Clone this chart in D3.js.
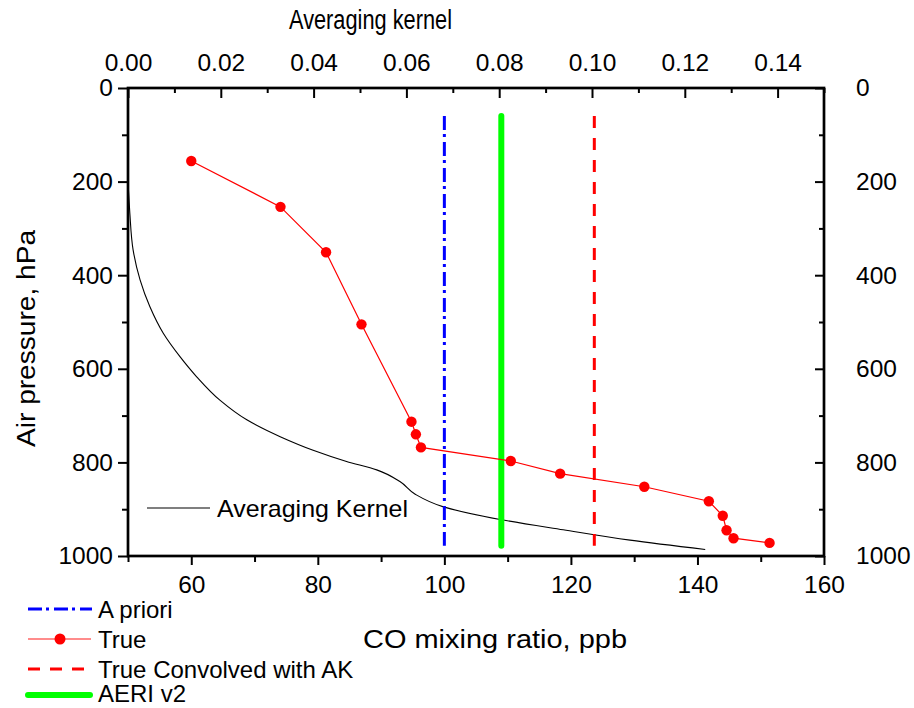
<!DOCTYPE html>
<html>
<head>
<meta charset="utf-8">
<script src="https://cdn.jsdelivr.net/npm/d3@7"></script>
<style>
  body { margin: 0; background: #fff; }
  svg { font-family: "Liberation Sans", Arial, sans-serif; }
</style>
</head>
<body>
<svg id="chart"></svg>
<script>
// CO profile (true), ppb vs hPa
const trueCO = [60, 74.1, 81.3, 86.9, 94.8, 95.5, 96.3, 110.5, 118.3, 131.6, 141.8, 144.0, 144.6, 145.7, 151.4];
const truePressure = [156, 254, 351, 505, 713, 740, 768, 797, 824, 852, 883, 914, 945, 962, 972];

// averaging kernel (top axis) vs pressure
const akValues = [0.0000, 0.0001, 0.0004, 0.0011, 0.0026, 0.0047, 0.0076, 0.0112, 0.0148, 0.0198, 0.0256, 0.0328, 0.0399, 0.0471, 0.0536, 0.0586, 0.0619, 0.0680, 0.0802, 0.0938, 0.1082, 0.1244];
const akPressure = [205, 218, 268, 346, 410, 467, 524, 574, 617, 667, 709, 745, 774, 798, 816, 841, 868, 895, 922, 944, 966, 986];

// constant profiles
const aprioriCO = 100;
const convolvedCO = 123.7;
const aeriCO = 109;
const profileRange = [60, 978];

const xTicks = [60, 80, 100, 120, 140, 160];
const xMinor = [50, 70, 90, 110, 130, 150];
const akTicks = [0, 0.02, 0.04, 0.06, 0.08, 0.10, 0.12, 0.14];
const akMinor = [0.01, 0.03, 0.05, 0.07, 0.09, 0.11, 0.13, 0.15];
const pTicks = [0, 200, 400, 600, 800, 1000];
const pMinor = [100, 300, 500, 700, 900];

const global_width = 914, global_height = 708;
const margin = {top: 88, left: 128};
const width = 696, height = 468;

const svg = d3.select("#chart")
  .attr("width", global_width)
  .attr("height", global_height);

svg.append("rect")
  .attr("width", global_width)
  .attr("height", global_height)
  .attr("fill", "#fff");

const plot = svg.append("g")
  .attr("transform", "translate(" + margin.left + "," + margin.top + ")");

// scales
const xScale = d3.scaleLinear().domain([50, 160]).range([0, width]);
const akScale = d3.scaleLinear().domain([0, 0.15]).range([0, width]);
const yScale = d3.scaleLinear().domain([0, 1000]).range([0, height]);

// axes - left & bottom ticks out, top & right ticks in
const fmtNone = () => "";
const fmtInt = d3.format("d");
const axes = [
  {axis: d3.axisLeft(yScale).tickValues(pTicks).tickSize(10).tickPadding(5).tickFormat(fmtInt), t: "translate(0,0)"},
  {axis: d3.axisLeft(yScale).tickValues(pMinor).tickSize(6).tickFormat(fmtNone), t: "translate(0,0)"},
  {axis: d3.axisRight(yScale).tickValues(pTicks).tickSize(-9).tickPadding(32).tickFormat(fmtInt), t: "translate(" + width + ",0)"},
  {axis: d3.axisRight(yScale).tickValues(pMinor).tickSize(-5).tickFormat(fmtNone), t: "translate(" + width + ",0)"},
  {axis: d3.axisBottom(xScale).tickValues(xTicks).tickSize(9).tickPadding(11), t: "translate(0," + height + ")"},
  {axis: d3.axisBottom(xScale).tickValues(xMinor).tickSize(6).tickFormat(fmtNone), t: "translate(0," + height + ")"},
  {axis: d3.axisTop(akScale).tickValues(akTicks).tickSize(-10).tickPadding(17).tickFormat(d3.format(".2f")), t: "translate(0,0)"},
  {axis: d3.axisTop(akScale).tickValues(akMinor).tickSize(-5).tickFormat(fmtNone), t: "translate(0,0)"}
];
axes.forEach(a => {
  const g = plot.append("g")
    .attr("transform", a.t)
    .call(a.axis);
  g.select(".domain").remove();
  g.selectAll("line").attr("stroke", "#000").attr("stroke-width", 2);
  g.selectAll("text")
    .attr("fill", "#000")
    .style("font-size", "24.5px")
    .style("font-family", '"Liberation Sans", Arial, sans-serif');
});

// frame
plot.append("rect")
  .attr("width", width)
  .attr("height", height)
  .attr("fill", "none")
  .attr("stroke", "#000")
  .attr("stroke-width", 2.7);

// averaging kernel curve
const akData = akValues.map((v, i) => ({ak: v, p: akPressure[i]}));
plot.append("path")
  .datum(akData)
  .attr("fill", "none")
  .attr("stroke", "#000")
  .attr("stroke-width", 1.1)
  .attr("d", d3.line()
    .x(d => akScale(d.ak))
    .y(d => yScale(d.p))
    .curve(d3.curveMonotoneY));

// vertical profiles
const vline = (co, color, w, dash, cap) => {
  plot.append("line")
    .attr("x1", xScale(co)).attr("x2", xScale(co))
    .attr("y1", yScale(profileRange[0])).attr("y2", yScale(profileRange[1]))
    .attr("stroke", color)
    .attr("stroke-width", w)
    .attr("stroke-dasharray", dash)
    .attr("stroke-linecap", cap);
};
vline(aprioriCO, "#0000ff", 3, "14,4,3,5", "butt");
vline(aeriCO, "#00ff00", 6, null, "round");
vline(convolvedCO, "#ff0000", 3, "12,10", "butt");

// true profile
const trueData = trueCO.map((v, i) => ({co: v, p: truePressure[i]}));
plot.append("path")
  .datum(trueData)
  .attr("fill", "none")
  .attr("stroke", "#ff0000")
  .attr("stroke-width", 1.2)
  .attr("d", d3.line().x(d => xScale(d.co)).y(d => yScale(d.p)));

plot.selectAll("circle.true")
  .data(trueData)
  .enter()
  .append("circle")
  .attr("class", "true")
  .attr("cx", d => xScale(d.co))
  .attr("cy", d => yScale(d.p))
  .attr("r", 5.2)
  .attr("fill", "#ff0000");

// axis titles
svg.append("text")
  .attr("x", 370.5).attr("y", 29)
  .attr("text-anchor", "middle")
  .attr("textLength", 163).attr("lengthAdjust", "spacingAndGlyphs")
  .style("font-size", "27px")
  .text("Averaging kernel");

svg.append("text")
  .attr("x", 495).attr("y", 648)
  .attr("text-anchor", "middle")
  .attr("textLength", 264).attr("lengthAdjust", "spacingAndGlyphs")
  .style("font-size", "25px")
  .text("CO mixing ratio, ppb");

svg.append("text")
  .attr("transform", "translate(35,338.5) rotate(-90)")
  .attr("text-anchor", "middle")
  .attr("textLength", 217).attr("lengthAdjust", "spacingAndGlyphs")
  .style("font-size", "25px")
  .text("Air pressure, hPa");

// in-plot legend for the kernel
svg.append("line")
  .attr("x1", 147).attr("x2", 210)
  .attr("y1", 508).attr("y2", 508)
  .attr("stroke", "#000").attr("stroke-width", 1.1);
svg.append("text")
  .attr("x", 217).attr("y", 517)
  .attr("textLength", 191).attr("lengthAdjust", "spacingAndGlyphs")
  .style("font-size", "24px")
  .text("Averaging Kernel");

// bottom legend
const legendItems = [
  {label: "A priori", color: "#0000ff", w: 3, dash: "14,4,3,5", x2: 92},
  {label: "True", color: "#ff6666", w: 1.5, dash: null, x2: 91, marker: true},
  {label: "True Convolved with AK", color: "#ff0000", w: 3, dash: "12,10", x2: 84},
  {label: "AERI v2", color: "#00ff00", w: 6, dash: null, x2: 90, cap: "round"}
];
const legendY = [609, 639, 669, 695];
legendItems.forEach((d, i) => {
  const y = legendY[i];
  svg.append("line")
    .attr("x1", 28).attr("x2", d.x2)
    .attr("y1", y).attr("y2", y)
    .attr("stroke", d.color)
    .attr("stroke-width", d.w)
    .attr("stroke-dasharray", d.dash)
    .attr("stroke-linecap", d.cap || "butt");
  if (d.marker) {
    svg.append("circle")
      .attr("cx", 60).attr("cy", y).attr("r", 5.5)
      .attr("fill", "#ff0000");
  }
  svg.append("text")
    .attr("x", 98).attr("y", Math.min(y + 8.5, 702))
    .style("font-size", "24px")
    .text(d.label);
});
</script>
</body>
</html>
